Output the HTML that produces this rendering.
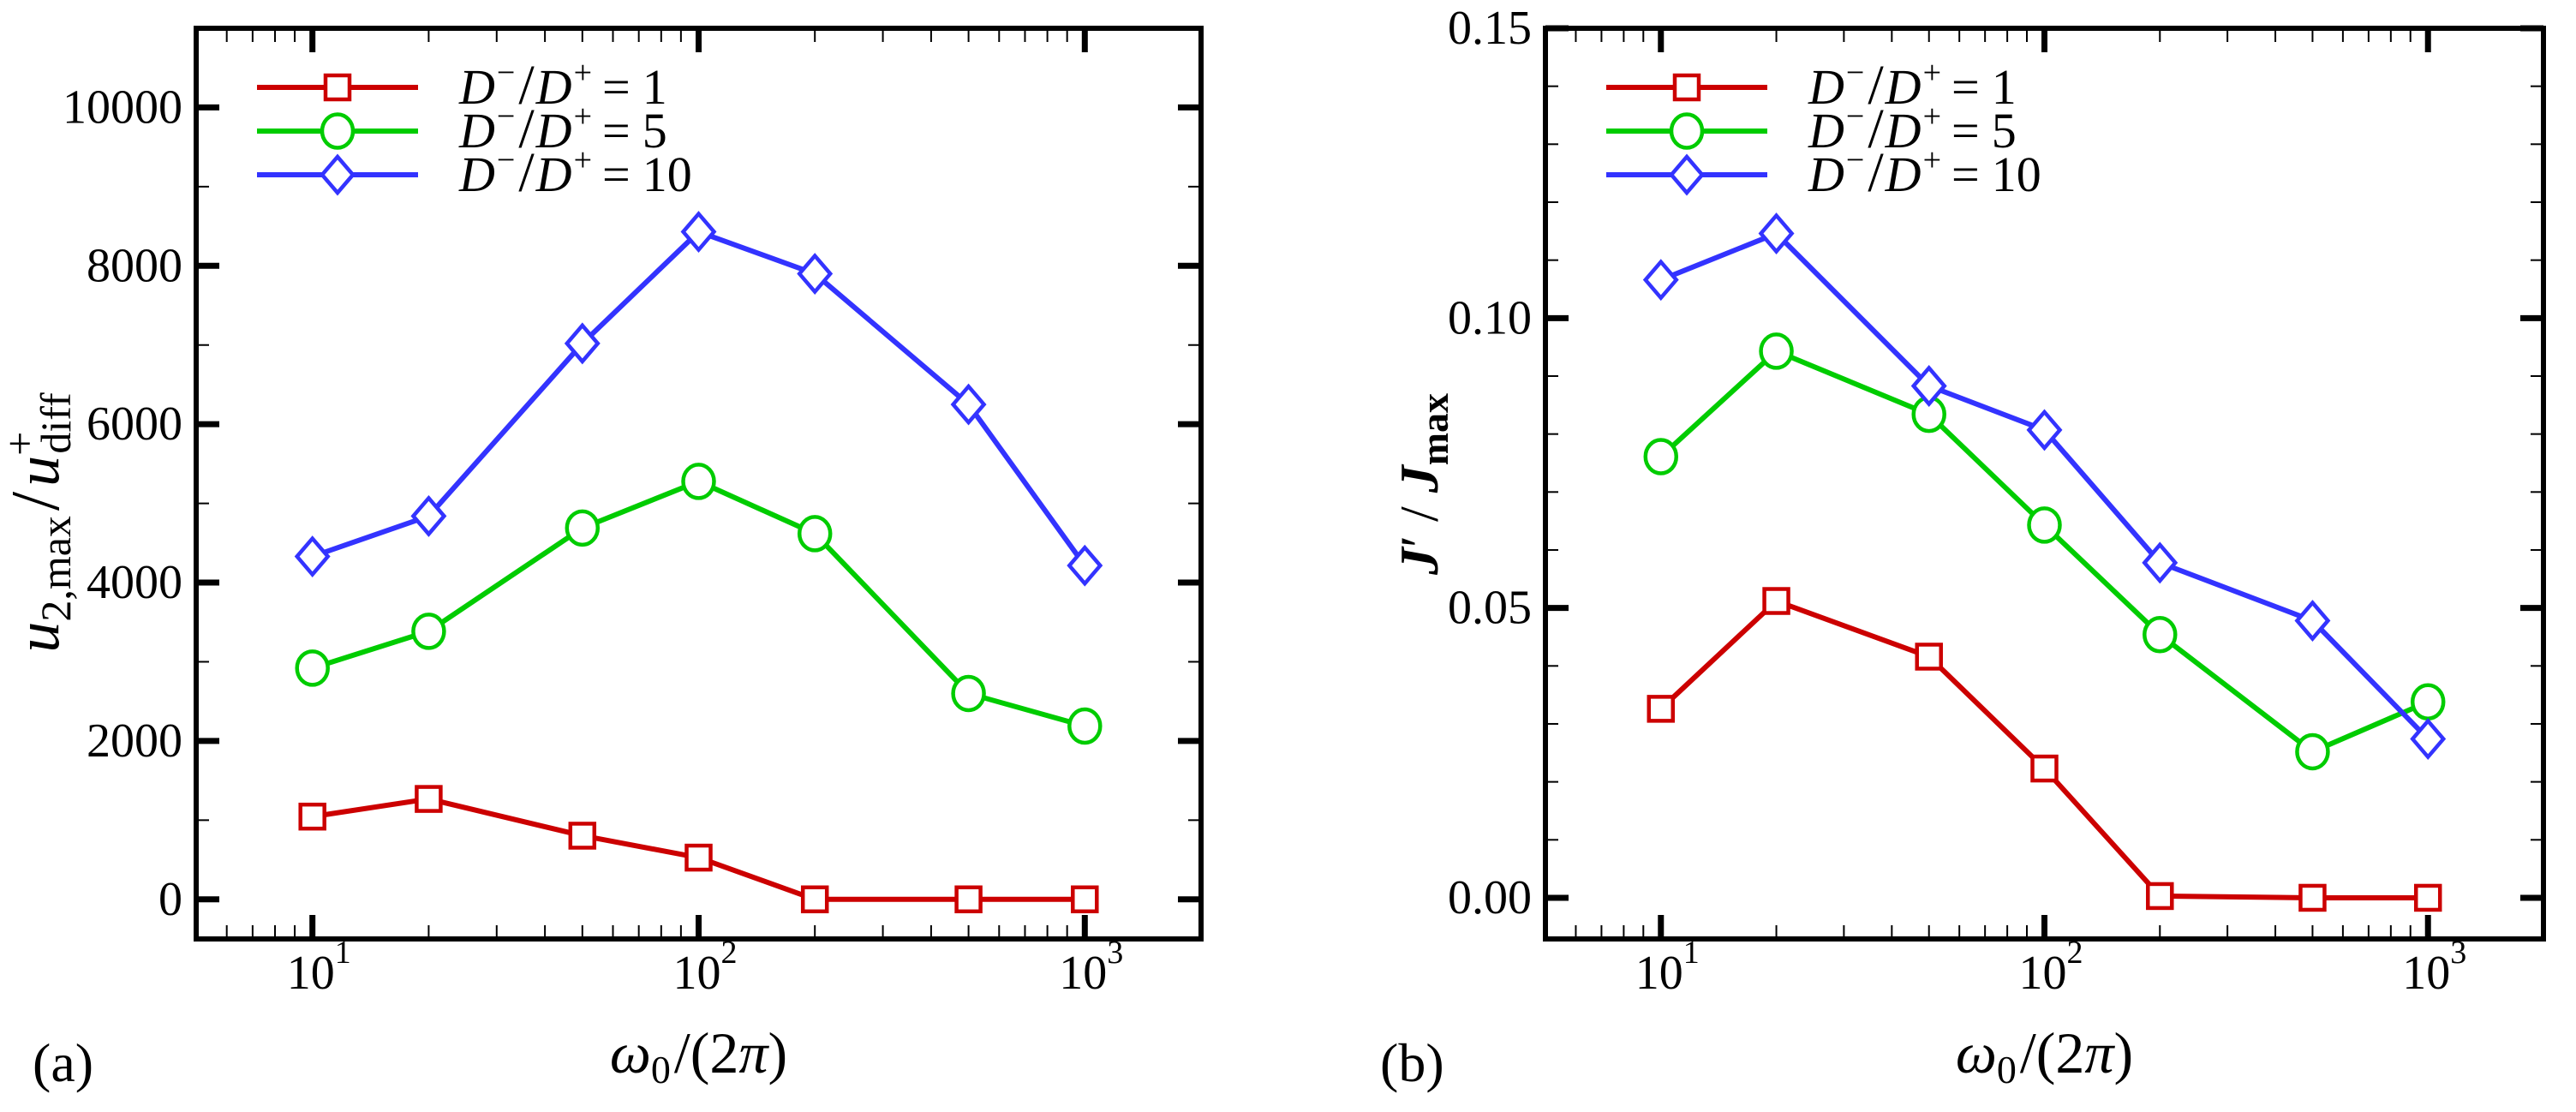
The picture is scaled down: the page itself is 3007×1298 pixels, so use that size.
<!DOCTYPE html>
<html><head><meta charset="utf-8"><style>
html,body{margin:0;padding:0;background:#fff;}
text,tspan{font-family:"Liberation Serif","DejaVu Serif",serif;}
</style></head><body>
<svg id="fig" width="3007" height="1293" viewBox="0 0 3007 1293" xmlns="http://www.w3.org/2000/svg" font-family="'Liberation Serif', 'DejaVu Serif', serif">
<rect width="3007" height="1293" fill="#fff"/>
<g id="pa"></g>
<g id="pb"></g>
</svg>
<script>
const xCats = [10, 20, 50, 100, 200, 500, 1000];
const aRed = [1045, 1268, 804, 527, 0, 0, 0];
const aGreen = [2920, 3385, 4689, 5278, 4618, 2600, 2188];
const aBlue = [4330, 4840, 7020, 8430, 7900, 6250, 4215];
const bRed = [0.0326, 0.0512, 0.0416, 0.0223, 0.0003, 0.0, 0.0];
const bGreen = [0.0761, 0.0943, 0.0834, 0.0643, 0.0454, 0.0252, 0.0338];
const bBlue = [0.1066, 0.1146, 0.0883, 0.0807, 0.0578, 0.0478, 0.0274];
const aYTicks = [0, 2000, 4000, 6000, 8000, 10000];
const aYTickLabels = ["0", "2000", "4000", "6000", "8000", "10000"];
const bYTicks = [0, 0.05, 0.10, 0.15];
const bYTickLabels = ["0.00", "0.05", "0.10", "0.15"];
const xDecades = [1, 2, 3];
const legendLabels = ["1", "5", "10"];

const NS = "http://www.w3.org/2000/svg";
const FF = "Liberation Serif, DejaVu Serif, serif";
function mk(tag, attrs, parent){
  const e = document.createElementNS(NS, tag);
  for (const k in attrs) e.setAttribute(k, attrs[k]);
  if (tag === "text") e.setAttribute("font-family", FF);
  parent.appendChild(e);
  return e;
}
const COLORS = ["#cc0000", "#00cc00", "#3333ff"];
const MARK = ["square", "circle", "diamond"];

function marker(g, type, x, y, color){
  let m;
  if (type === "square") {
    m = mk("rect", {x: x-14, y: y-14, width: 28, height: 28, fill: "#fff", stroke: color, "stroke-width": 4.5}, g);
  } else if (type === "circle") {
    m = mk("ellipse", {cx: x, cy: y, rx: 18, ry: 19.5, fill: "#fff", stroke: color, "stroke-width": 4.5}, g);
  } else {
    m = mk("polygon", {points: `${x},${y-21} ${x+18},${y} ${x},${y+21} ${x-18},${y}`, fill: "#fff", stroke: color, "stroke-width": 4.5}, g);
  }
  return m;
}

function panel(g, box, ymin, ymax, series, yTicks, yLabels, yMinorStep, legendX, letter, letterX, ytitle){
  const L = box.l, R = box.r, T = box.t, B = box.b;
  const lx0 = Math.log10(5), lx1 = Math.log10(2000);
  const sx = v => L + (Math.log10(v) - lx0) / (lx1 - lx0) * (R - L);
  const sy = v => B - (v - ymin) / (ymax - ymin) * (B - T);
  const tg = mk("g", {}, g);
  
  
  for (let d = 0; d <= 3; d++) {
    for (let k = 1; k <= 9; k++) {
      const v = k * Math.pow(10, d);
      if (v < 5 || v > 2000) continue;
      const x = sx(v);
      const major = (k === 1);
      const len = major ? 28 : 16, w = major ? 7 : 2;
      mk("line", {x1: x, y1: B, x2: x, y2: B - len, stroke: "#000", "stroke-width": w}, tg);
      mk("line", {x1: x, y1: T, x2: x, y2: T + len, stroke: "#000", "stroke-width": w}, tg);
    }
  }
  const nMin = Math.ceil(ymin / yMinorStep - 1e-9), nMax = Math.floor(ymax / yMinorStep + 1e-9);
  for (let n = nMin; n <= nMax; n++) {
    const v = n * yMinorStep;
    const isMajor = yTicks.some(t => Math.abs(t - v) < yMinorStep * 0.01);
    const y = sy(v);
    const len = isMajor ? 27 : 15, w = isMajor ? 7 : 2;
    mk("line", {x1: L, y1: y, x2: L + len, y2: y, stroke: "#000", "stroke-width": w}, tg);
    mk("line", {x1: R, y1: y, x2: R - len, y2: y, stroke: "#000", "stroke-width": w}, tg);
  }
  yTicks.forEach((v, i) => {
    const t = mk("text", {x: L - 16, y: sy(v) + 18, "font-size": 56, "text-anchor": "end"}, g);
    t.textContent = yLabels[i];
    
    
  });
  xDecades.forEach(d => {
    const x = sx(Math.pow(10, d));
    const t = mk("text", {x: x - 30, y: 1154, "font-size": 56}, g);
    t.textContent = "10";
    const s = mk("tspan", {dy: -30, "font-size": 38}, t);
    s.textContent = String(d);
    
    
  });
  series.forEach((vals, si) => {
    const sg = mk("g", {}, g);
    
    
    const pts = vals.map((v, i) => sx(xCats[i]) + "," + sy(v)).join(" ");
    mk("polyline", {points: pts, fill: "none", stroke: COLORS[si], "stroke-width": 6, "stroke-linejoin": "round"}, sg);
    vals.forEach((v, i) => {
      const m = marker(sg, MARK[si], sx(xCats[i]), sy(v), COLORS[si]);
      
      
    });
  });
  const fr = mk("rect", {x: L, y: T, width: R - L, height: B - T, fill: "none", stroke: "#000", "stroke-width": 6}, g);
  
  
  const lg = mk("g", {}, g);
  
  
  [102, 153, 204].forEach((y, i) => {
    const e = mk("g", {}, lg);
    
    
    mk("line", {x1: legendX, y1: y, x2: legendX + 188, y2: y, stroke: COLORS[i], "stroke-width": 6}, e);
    marker(e, MARK[i], legendX + 94, y, COLORS[i]);
    const t = mk("text", {x: legendX + 236, y: y + 19, "font-size": 58}, e);
    t.innerHTML = '<tspan font-style="italic">D</tspan><tspan dx="2" dy="-24" font-size="38">−</tspan><tspan dx="4" dy="24" font-size="66">/</tspan><tspan dx="2" font-style="italic">D</tspan><tspan dx="2" dy="-24" font-size="38">+</tspan><tspan dx="12" dy="24">=</tspan><tspan dx="14">' + legendLabels[i] + '</tspan>';
  });
  const xt = mk("text", {x: (L + R) / 2, y: 1252, "font-size": 68, "text-anchor": "middle"}, g);
  xt.innerHTML = '<tspan font-style="italic">ω</tspan><tspan dy="12" font-size="46">0</tspan><tspan dx="4" dy="-12">/(2</tspan><tspan font-style="italic">π</tspan>)';
  
  
  const yt = mk("text", {x: 0, y: 0, "font-size": ytitle.fs, "text-anchor": "middle", transform: `translate(${ytitle.x},${ytitle.y}) rotate(-90)`}, g);
  yt.innerHTML = ytitle.html;
  
  
  const lt = mk("text", {x: letterX, y: 1262, "font-size": 64}, g);
  lt.textContent = letter;
  
  
}

panel(document.getElementById("pa"), {l: 229, r: 1402, t: 33, b: 1096}, -500, 11000,
  [aRed, aGreen, aBlue], aYTicks, aYTickLabels, 1000, 300, "(a)", 38,
  {x: 68, y: 610, fs: 72, html: '<tspan font-style="italic">u</tspan><tspan dy="14" font-size="50">2,max</tspan><tspan dx="6" dy="-14" font-size="80">/</tspan><tspan dx="6" font-style="italic">u</tspan><tspan dy="-28" font-size="50">+</tspan><tspan dx="-26" dy="42" font-size="50">diff</tspan>'});
panel(document.getElementById("pb"), {l: 1804, r: 2969, t: 33, b: 1096}, -0.0071, 0.15,
  [bRed, bGreen, bBlue], bYTicks, bYTickLabels, 0.01, 1875, "(b)", 1611,
  {x: 1678, y: 565, fs: 64, html: '<tspan font-style="italic" font-weight="bold">J</tspan>′ / <tspan font-style="italic" font-weight="bold">J</tspan><tspan dy="12" font-size="46" font-weight="bold">max</tspan>'});
</script>
</body></html>
